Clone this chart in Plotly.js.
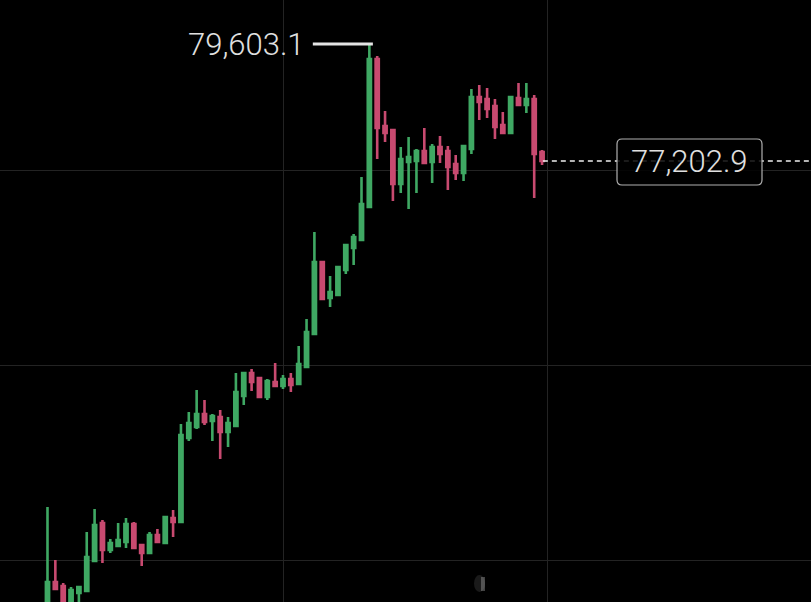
<!DOCTYPE html>
<html>
<head>
<meta charset="utf-8">
<script src="https://cdn.plot.ly/plotly-3.0.1.min.js"></script>
<style>html,body{margin:0;padding:0;background:#000;overflow:hidden}#chart{width:811px;height:602px}</style>
</head>
<body>
<div id="chart"></div>
<script>
const opens = [67992,68566,68484,67992,68341,68382,68997,69777,69223,69305,69387,69756,69326,69161,69530,69366,69880,69797,71521,71746,72013,71869,71951,71644,71767,72382,72854,72751,72362,72669,72587,72731,72628,72977,73654,75131,74393,74454,74967,75418,75582,76259,79295,77921,77839,76731,77182,77203,77408,77182,77490,77408,77141,76957,77449,78516,78475,78331,77941,77777,78495,78352,78475,77388];
const closes = [68566,68423,67992,68402,68464,69079,69736,69223,69366,69428,69756,69264,69161,69530,69387,69900,69797,71582,71828,72013,71849,71972,71644,71828,72464,72854,72669,72362,72690,72587,72731,72608,73038,73695,75131,74372,74516,75028,75480,75644,76321,79295,77880,77777,76731,77244,77285,77408,77162,77490,77347,77080,76957,77510,78516,78413,78270,77900,77777,78516,78352,78475,77347,77202.9];
const highs = [70105,69018,68546,68464,68464,69592,70064,69839,69448,69777,69880,69797,69346,69592,69654,69920,70044,71808,72054,72505,72300,72013,72095,71951,72854,72874,72936,72772,72731,73059,72813,72854,73408,73962,75746,75151,74844,75028,75480,75705,76875,79603.1,79357,78229,77859,77490,77695,77449,77880,77552,77716,77510,77326,77510,78680,78762,78700,78475,78208,78516,78803,78803,78557,77429];
const lows = [67900,68402,67950,67900,67890,68361,68977,68956,69161,69284,69264,69244,68895,69141,69366,69346,69489,69777,71459,71705,71787,71459,71090,71336,71746,72198,72485,72341,72300,72567,72526,72464,72608,72956,73633,74352,74208,74434,74885,75069,75562,76239,77244,77593,76382,76546,76218,76546,77141,76752,77162,76608,76813,76793,77347,78044,78085,77654,77757,77757,78331,78188,76444,77121];
const sessions = opens.map((_, i) => i);
const yGrid = [77000, 73000, 69000];
const xGrid = [30, 63.63];
const highPrice = 79603.1;
const lastPrice = 77202.9;
const highLabel = "79,603.1";
const lastLabel = "77,202.9";
const xRange = [-6.05, 97.26];
const yRange = [68156.3, 80505.7];

const GREEN = "#3fa863", RED = "#c84a70";
const trace = {
  type: "candlestick", x: sessions, open: opens, high: highs, low: lows, close: closes,
  whiskerwidth: 0,
  increasing: {line: {color: GREEN, width: 2.6}, fillcolor: GREEN},
  decreasing: {line: {color: RED, width: 2.6}, fillcolor: RED},
  hoverinfo: "skip", showlegend: false
};

const W = 811, H = 602;
function roundRect(x0, y0, x1, y1, r) {
  const px = v => (v / W).toFixed(5), py = v => (1 - v / H).toFixed(5);
  return `M${px(x0 + r)},${py(y0)} L${px(x1 - r)},${py(y0)} Q${px(x1)},${py(y0)} ${px(x1)},${py(y0 + r)} ` +
    `L${px(x1)},${py(y1 - r)} Q${px(x1)},${py(y1)} ${px(x1 - r)},${py(y1)} L${px(x0 + r)},${py(y1)} ` +
    `Q${px(x0)},${py(y1)} ${px(x0)},${py(y1 - r)} L${px(x0)},${py(y0 + r)} Q${px(x0)},${py(y0)} ${px(x0 + r)},${py(y0)} Z`;
}

const layout = {
  width: W, height: H,
  margin: {l: 0, r: 0, t: 0, b: 0, pad: 0},
  paper_bgcolor: "#000", plot_bgcolor: "#000",
  boxgap: 0.42,
  showlegend: false,
  xaxis: {range: xRange, type: "linear", rangeslider: {visible: false}, tickmode: "array", tickvals: xGrid,
    showticklabels: false, ticks: "", showgrid: true, gridcolor: "#232323", gridwidth: 1, zeroline: false, showline: false},
  yaxis: {range: yRange, tickmode: "array", tickvals: yGrid, showticklabels: false, ticks: "",
    showgrid: true, gridcolor: "#232323", gridwidth: 1, zeroline: false, showline: false},
  shapes: [
    {type: "line", xref: "x", yref: "y", x0: 33.8, x1: 41.45, y0: highPrice, y1: highPrice,
      line: {color: "#e4e4e4", width: 3}},
    {type: "line", xref: "x", yref: "y", x0: 63.1, x1: xRange[1], y0: lastPrice, y1: lastPrice,
      line: {color: "#f0f0f0", width: 1.5, dash: "5px,4px"}},
    {type: "path", xref: "paper", yref: "paper", path: roundRect(617, 139, 762, 185, 5),
      fillcolor: "rgba(0,0,0,0.85)", line: {color: "#b0b0b0", width: 1.2}},
    {type: "circle", xref: "paper", yref: "paper", x0: 474/W, x1: 485/W, y0: 1-592/H, y1: 1-575/H,
      fillcolor: "rgba(120,120,120,0.22)", line: {width: 0}},
    {type: "rect", xref: "paper", yref: "paper", x0: 481/W, x1: 485/W, y0: 1-591/H, y1: 1-577/H,
      fillcolor: "rgba(190,190,190,0.35)", line: {width: 0}}
  ],
  annotations: [
    {xref: "paper", yref: "y", x: 307/W, y: highPrice, xanchor: "right", yanchor: "middle", showarrow: false,
      text: highLabel, font: {family: "Roboto, sans-serif", size: 31, weight: 300, color: "#e0e0e0"}},
    {xref: "paper", yref: "y", x: 689/W, y: lastPrice, xanchor: "center", yanchor: "middle", showarrow: false,
      text: lastLabel, font: {family: "Roboto, sans-serif", size: 31, weight: 300, color: "#e0e0e0"}}
  ]
};
Plotly.newPlot("chart", [trace], layout, {displayModeBar: false, staticPlot: true, responsive: false});
</script>
</body>
</html>
